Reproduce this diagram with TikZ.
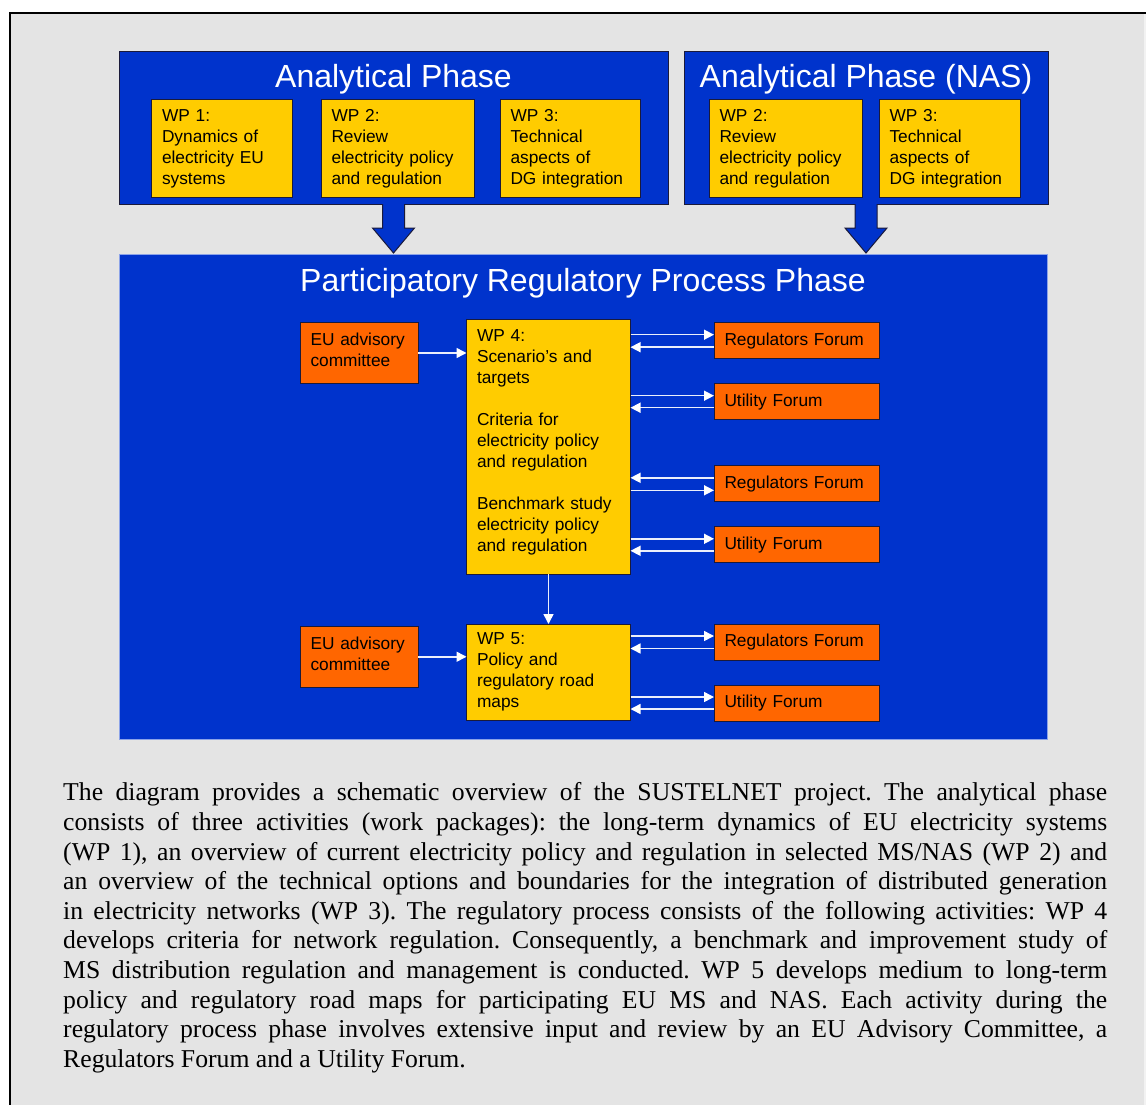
\documentclass[tikz,border=0pt]{standalone}
\usepackage{fontspec}
\setmainfont{Liberation Serif}
\newfontfamily\arialf{Liberation Sans}
\usetikzlibrary{arrows.meta,calc}
\definecolor{bgrey}{HTML}{E4E4E4}
\definecolor{pblue}{HTML}{0033CC}
\definecolor{pyel}{HTML}{FFCC00}
\definecolor{porange}{HTML}{FF6600}
\definecolor{pline}{HTML}{1A1A3A}
\newcommand\boxf{\arialf\fontsize{17.3}{21}\selectfont}
\newcommand\titlef{\arialf\fontsize{32}{38}\selectfont}
\newcommand\bodyf{\fontsize{25.7}{29.6}\selectfont}
\newcommand\lowpad[1]{\rule[-#1]{0pt}{1pt}}
\tikzset{
  bbox/.style={draw=pline, line width=1pt, fill=pblue, anchor=north west, inner sep=0pt, outer sep=0pt},
  ybox/.style={draw=pline, line width=1pt, fill=pyel, anchor=north west, inner xsep=10.5pt, inner ysep=0pt, outer sep=0pt, align=left, font=\boxf},
  obox/.style={ybox, fill=porange},
  ttl/.style={anchor=base, text=white, font=\titlef, inner sep=0pt},
  conn/.style={draw=pblue!8!white, line width=1.5pt, -{Triangle[length=10pt,width=10pt,fill=white,color=white]}},
  blk/.style={draw=pline, line width=1pt},
}
\begin{document}
\begin{tikzpicture}[x=1pt,y=-1pt]
\useasboundingbox (0,0) rectangle (1146,1105);
\fill[white] (0,0) rectangle (1146,1105);
\fill[bgrey] (10,13) rectangle (1144,1105);
\fill[gray!10] (1144,13) rectangle (1146,1105);
\draw[black, line width=2pt] (10,1105) -- (10,13) -- (1146,13);

% analytical phases
\node[bbox, minimum width=549pt, minimum height=152pt] (ap) at (119,52) {};
\node[bbox, minimum width=364pt, minimum height=152pt] (nas) at (684,52) {};
\node[ttl] (apt) at (ap.north |- 0,88) {Analytical Phase};
\node[ttl] (nast) at (nas.north |- 0,88) {Analytical Phase (NAS)};

\node[ybox, text width=120pt, minimum height=97pt] (wp1) at (151.5,100) {WP 1:\\Dynamics of\\electricity EU\\systems};
\node[ybox, text width=132pt, minimum height=97pt] (wp2) at (321,100) {WP 2:\\Review\\electricity policy\\and regulation};
\node[ybox, text width=119pt, minimum height=97pt] (wp3) at (500,100) {WP 3:\\Technical\\aspects of\\DG integration};
\node[ybox, text width=132pt, minimum height=97pt] (nwp2) at (709,100) {WP 2:\\Review\\electricity policy\\and regulation};
\node[ybox, text width=120pt, minimum height=97pt] (nwp3) at (879,100) {WP 3:\\Technical\\aspects of\\DG integration};

% participatory phase
\node[bbox, draw=pblue!45!white, minimum width=928pt, minimum height=485pt] (pp) at (119,254) {};
\node[ttl] (ppt) at (pp.north |- 0,291) {Participatory Regulatory Process Phase};

% block arrows
\fill[pblue] ([xshift=-11pt,yshift=1pt]ap.south) -- ++(0,25) -- ++(-10,0) -- ++(21,25) -- ++(21,-25) -- ++(-10,0) -- ++(0,-25) -- cycle;
\draw[blk] ([xshift=-11pt]ap.south) -- ++(0,24) -- ++(-10,0) -- ++(21,25) -- ++(21,-25) -- ++(-10,0) -- ++(0,-24);
\fill[pblue] ([xshift=-11pt,yshift=1pt]nas.south) -- ++(0,25) -- ++(-10,0) -- ++(21,25) -- ++(21,-25) -- ++(-10,0) -- ++(0,-25) -- cycle;
\draw[blk] ([xshift=-11pt]nas.south) -- ++(0,24) -- ++(-10,0) -- ++(21,25) -- ++(21,-25) -- ++(-10,0) -- ++(0,-24);

\node[obox, text width=97pt, minimum height=61pt] (eu1) at (300,322.5) {EU advisory\\committee\lowpad{6pt}};
\node[ybox, text width=143pt, minimum height=255pt] (wp4) at (466.5,319) {WP 4:\\Scenario’s and\\targets\\[21pt]Criteria for\\electricity policy\\and regulation\\[21pt]Benchmark study\\electricity policy\\and regulation\lowpad{11pt}};
\node[obox, text width=144pt, minimum height=36pt] (rf1) at (714,322.7) {Regulators Forum};
\node[obox, text width=144pt, minimum height=36pt] (uf1) at (714,383.7) {Utility Forum};
\node[obox, text width=144pt, minimum height=36pt] (rf2) at (714,465.8) {Regulators Forum};
\node[obox, text width=144pt, minimum height=36pt] (uf2) at (714,526.8) {Utility Forum};

\node[obox, text width=97pt, minimum height=60.5pt] (eu2) at (300,626.5) {EU advisory\\committee\lowpad{6pt}};
\node[ybox, text width=143pt, minimum height=96pt] (wp5) at (466.5,624) {WP 5:\\Policy and\\regulatory road\\maps};
\node[obox, text width=144pt, minimum height=36pt] (rf3) at (714,624) {Regulators Forum};
\node[obox, text width=144pt, minimum height=36pt] (uf3) at (714,685) {Utility Forum};

% ports
\path ([yshift=6pt]rf1.west) coordinate (rf1i) ([yshift=-6.5pt]rf1.west) coordinate (rf1o)
      ([yshift=6pt]uf1.west) coordinate (uf1i) ([yshift=-6pt]uf1.west) coordinate (uf1o)
      ([yshift=6pt]rf2.west) coordinate (rf2o) ([yshift=-6.5pt]rf2.west) coordinate (rf2i)
      ([yshift=6pt]uf2.west) coordinate (uf2i) ([yshift=-6pt]uf2.west) coordinate (uf2o)
      ([yshift=6pt]rf3.west) coordinate (rf3i) ([yshift=-6.5pt]rf3.west) coordinate (rf3o)
      ([yshift=6pt]uf3.west) coordinate (uf3i) ([yshift=-6pt]uf3.west) coordinate (uf3o);

\draw[conn] (eu1.east) -- (eu1.east -| wp4.west);
\draw[conn] (eu2.east) -- (eu2.east -| wp5.west);
\draw[conn] (wp4.south) -- (wp5.north);

\draw[conn] (wp4.east |- rf1i) -- (rf1i);
\draw[conn] (rf1o) -- (wp4.east |- rf1o);
\draw[conn] (wp4.east |- uf1i) -- (uf1i);
\draw[conn] (uf1o) -- (wp4.east |- uf1o);
\draw[conn] (rf2o) -- (wp4.east |- rf2o);
\draw[conn] (wp4.east |- rf2i) -- (rf2i);
\draw[conn] (wp4.east |- uf2i) -- (uf2i);
\draw[conn] (uf2o) -- (wp4.east |- uf2o);
\draw[conn] (wp5.east |- rf3i) -- (rf3i);
\draw[conn] (rf3o) -- (wp5.east |- rf3o);
\draw[conn] (wp5.east |- uf3i) -- (uf3i);
\draw[conn] (uf3o) -- (wp5.east |- uf3o);

% caption text
\node[anchor=north west, text width=1044pt, align=justify, inner sep=0pt, font=\bodyf] (body) at (63,780)
{\noindent\frenchspacing\tolerance=9999\hyphenpenalty=10000\strut The diagram provides a schematic overview of the SUSTELNET project. The analytical phase\linebreak
consists of three activities (work packages): the long-term dynamics of EU electricity systems\linebreak
(WP 1), an overview of current electricity policy and regulation in selected MS/NAS (WP 2) and\linebreak
an overview of the technical options and boundaries for the integration of distributed generation\linebreak
in electricity networks (WP 3). The regulatory process consists of the following activities: WP 4\linebreak
develops criteria for network regulation. Consequently, a benchmark and improvement study of\linebreak
MS distribution regulation and management is conducted. WP 5 develops medium to long-term\linebreak
policy and regulatory road maps for participating EU MS and NAS. Each activity during the\linebreak
regulatory process phase involves extensive input and review by an EU Advisory Committee, a\linebreak
Regulators Forum and a Utility Forum.};
\end{tikzpicture}
\end{document}
